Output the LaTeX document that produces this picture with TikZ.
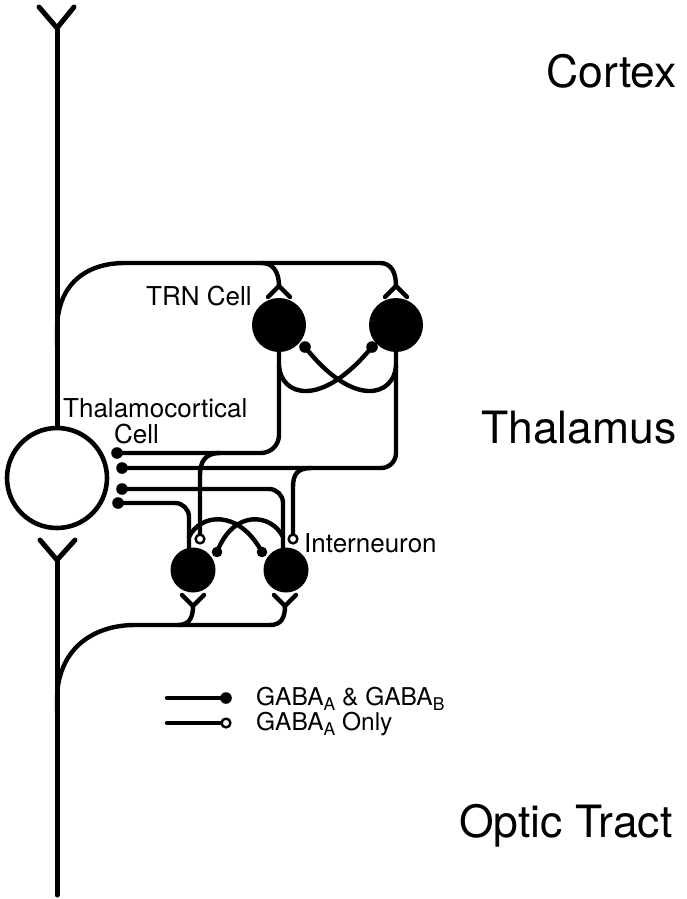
\documentclass[tikz,border=0pt]{standalone}
\usepackage{fontspec}
\setmainfont{TeX Gyre Heros}
\newcommand{\gsub}[1]{\raisebox{-0.22em}{\fontsize{17.5}{17.5}\selectfont #1}}
\begin{document}
\begin{tikzpicture}[x=1pt,y=-1pt, line cap=round, line join=round,
  axon/.style={line width=4.4pt},
  mainaxon/.style={line width=5pt},
  cellfill/.style={circle, fill=black, inner sep=0pt},
  lab/.style={inner sep=0pt, anchor=base west, font=\fontsize{26}{29}\selectfont},
  big/.style={inner sep=0pt, anchor=base west, font=\fontsize{44.5}{48}\selectfont},
  leg/.style={inner sep=0pt, anchor=base west, font=\fontsize{24.5}{27}\selectfont},
  opensyn/.style={line width=2.4pt, fill=white}]
\useasboundingbox (0,0) rectangle (686,899);

% cells
\node[circle, draw, line width=4.6pt, fill=white, minimum size=100pt, inner sep=0pt] (tc) at (57,478) {};
\node[cellfill, minimum size=54pt] (trnA) at (279,325) {};
\node[cellfill, minimum size=54pt] (trnB) at (396,325) {};
\node[cellfill, minimum size=45pt] (inA) at (193,570) {};
\node[cellfill, minimum size=45pt] (inB) at (286,570) {};

% coordinates
\coordinate (yTopL) at (39,7);
\coordinate (yTopM) at (57,28);
\coordinate (yTopR) at (74,7);
\coordinate (yBotL) at (40,540);
\coordinate (yBotM) at (57,560);
\coordinate (yBotR) at (75,540);
\coordinate (axEnd) at (57,895);
\coordinate (brTop) at (57,345);
\coordinate (brBot) at (57,712);
\coordinate (d1) at (117,453);
\coordinate (d2) at (122,468);
\coordinate (d3) at (122,489);
\coordinate (d4) at (118,503);
\coordinate (trnApex1) at (279,286);
\coordinate (trnApex2) at (396,286);
\coordinate (inApex1) at (193,606);
\coordinate (inApex2) at (285,606);
\coordinate (iaA) at (189,552);
\coordinate (iaB) at (283,552);
\coordinate (o1) at (200,539);
\coordinate (o2) at (293,539);
\coordinate (cA) at (305,347);
\coordinate (cB) at (372,347);
\coordinate (cC) at (217,552);
\coordinate (cD) at (262,552);

% main optic/cortical axon
\draw[mainaxon] (yTopL) -- (yTopM) -- (yTopR);
\draw[mainaxon] (yTopM) -- (tc.north);
\draw[mainaxon] (yBotL) -- (yBotM) -- (yBotR);
\draw[mainaxon] (yBotM) -- (axEnd);

% corticothalamic collateral to TRN cells
\draw[axon] (brTop) -- (57,330) .. controls (57,285) and (85,263) .. (125,263) -- (380,263)
  .. controls (391,263) and (396,272) .. (trnApex2);
\draw[axon] (262,263) .. controls (273,263) and (279,272) .. (trnApex1);
\draw[axon] (268,297) -- (trnApex1) -- (290,297);
\draw[axon] (385,297) -- (trnApex2) -- (407,297);

% TRN axons to TC cell
\draw[axon, rounded corners=18pt] (trnA.south) -- (279,453) -- (d1);
\draw[axon, rounded corners=15pt] (trnB.south) -- (396,468) -- (d2);
\fill (d1) circle[radius=5.8pt];
\fill (d2) circle[radius=5.8pt];

% TRN mutual collaterals
\draw[axon] (279,366) .. controls (281,395) and (320,410) .. (cB);
\draw[axon] (396,366) .. controls (394,395) and (355,410) .. (cA);
\fill (cA) circle[radius=5.8pt];
\fill (cB) circle[radius=5.8pt];

% interneuron axons to TC cell
\draw[axon, rounded corners=14pt] (iaB) -- (283,489) -- (d3);
\draw[axon, rounded corners=14pt] (iaA) -- (189,503) -- (d4);
\fill (d3) circle[radius=5.8pt];
\fill (d4) circle[radius=5.8pt];

% TRN branches onto interneurons (GABA_A only)
\draw[axon] (220,453) .. controls (205,453) and (200,462) .. (200,475) -- (o1);
\draw[axon] (311,468) .. controls (297,468) and (293,475) .. (293,487) -- (o2);
\draw[opensyn] (o1) circle[radius=4.4pt];
\draw[opensyn] (o2) circle[radius=4.4pt];

% interneuron mutual collaterals
\draw[axon] (189,537) .. controls (200,514) and (238,508) .. (cD);
\draw[axon] (283,537) .. controls (272,514) and (234,508) .. (cC);
\fill (cC) circle[radius=5.3pt];
\fill (cD) circle[radius=5.3pt];

% retinal input to interneurons
\draw[axon] (brBot) -- (57,700) .. controls (57,650) and (92,625) .. (135,625) -- (270,625)
  .. controls (281,625) and (285,618) .. (inApex2);
\draw[axon] (178,625) .. controls (189,625) and (193,618) .. (inApex1);
\draw[axon] (182,595) -- (inApex1) -- (204,595);
\draw[axon] (274,595) -- (inApex2) -- (296,595);

% labels
\node[big] (cortex) at (546,87) {Cortex};
\node[big] (thal) at (481,443) {Thalamus};
\node[big] (optic) at (459,837) {Optic Tract};
\node[lab] (trnlab) at (146,305) {TRN Cell};
\node[lab] (tclab1) at (63,417) {Thalamocortical};
\node[lab] (tclab2) at (114,443) {Cell};
\node[lab] (inlab) at (304,552) {Interneuron};

% legend
\coordinate (l1a) at (167,698);
\coordinate (l1b) at (226,698);
\coordinate (l2a) at (167,723);
\coordinate (l2m) at (221,723);
\coordinate (l2b) at (226,723);
\draw[axon] (l1a) -- (l1b);
\fill (l1b) circle[radius=5.8pt];
\draw[axon] (l2a) -- (l2m);
\draw[opensyn] (l2b) circle[radius=4.4pt];
\node[leg] (leg1) at (256,705) {GABA\gsub{A} \& GABA\gsub{B}};
\node[leg] (leg2) at (256,730) {GABA\gsub{A} Only};
\end{tikzpicture}
\end{document}
